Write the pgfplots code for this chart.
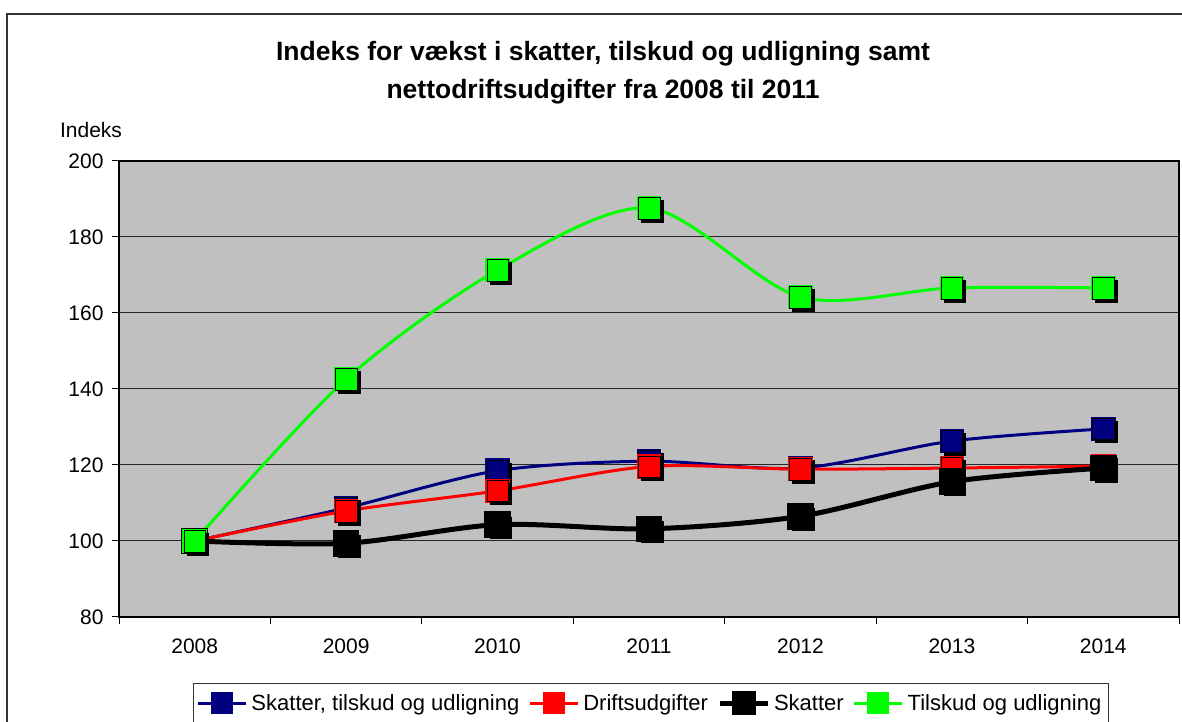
\documentclass[border=0pt]{standalone}
\usepackage{fontspec}
\setmainfont{Liberation Sans}
\usepackage{pgfplots}
\usepackage{pgfplotstable}
\pgfplotsset{compat=1.18}
\definecolor{navyb}{RGB}{0,0,128}
\definecolor{lgreen}{RGB}{0,255,0}
\definecolor{bggray}{RGB}{192,192,192}
\pgfplotstableread{
x blue red black green
0 100   100   100   100
1 108.7 107.9 99.4  142.6
2 118.5 113.2 104.3 171.3
3 121.0 119.6 103.2 187.6
4 119.2 118.9 106.5 164.2
5 126.3 119.2 115.6 166.6
6 129.5 119.7 119.2 166.6
}\data
\begin{document}
\begin{tikzpicture}[x=1pt,y=1pt]
\useasboundingbox (0,0) rectangle (1182,722);
\draw[line width=1.5pt, black!80] (7,708) rectangle (1200,-20);
\node[font=\bfseries\fontsize{26.5}{38}\selectfont, align=center] at (603,649) {Indeks for vækst i skatter, tilskud og udligning samt\\nettodriftsudgifter fra 2008 til 2011};
\node[font=\fontsize{21}{24}\selectfont] at (91,592) {Indeks};
\begin{axis}[
  at={(119pt,105pt)}, anchor=south west,
  width=1060pt, height=456pt, scale only axis,
  xmin=-0.5, xmax=6.5, ymin=80, ymax=200,
  ytick={80,100,...,200},
  xtick={0,...,6},
  xticklabels={2008,2009,2010,2011,2012,2013,2014},
  minor xtick={-0.5,0.5,...,6.5},
  major x tick style={draw=none},
  tick align=outside, tick pos=left,
  major tick length=7pt, minor tick length=7pt,
  tick style={black, line width=1pt},
  axis line style={black, line width=1.2pt},
  ymajorgrids, major grid style={black!85, line width=1pt},
  axis background/.style={fill=bggray},
  /pgf/number format/assume math mode=true,
  ticklabel style={font=\fontsize{21}{25}\selectfont},
  yticklabel style={xshift=-5pt},
  xticklabel style={yshift=-11pt},
  legend columns=4,
  legend style={at={(0.0698,-0.1447)}, anchor=north west, draw=black!80, line width=1pt,
    font=\fontsize{22}{25}\selectfont, inner xsep=3pt, inner ysep=9pt,
    nodes={inner xsep=4pt, inner ysep=2pt},
    /tikz/every even column/.append style={column sep=5pt}},
  legend cell align=left,
  legend image code/.code={\draw[mark repeat=2,mark phase=2,#1, mark size=9.5pt] plot coordinates {(0pt,0pt)(24pt,0pt)(48pt,0pt)};},
]
% Series 1
\addplot[navyb, line width=3pt, smooth, mark=square*, mark size=10.8pt, mark options={draw=none, fill=navyb}] table[x=x,y=blue]{\data};
\addlegendentry{Skatter, tilskud og udligning}
\addplot[forget plot, only marks, mark=square*, mark size=10.8pt, mark options={draw=none, fill=black, xshift=3pt, yshift=-3pt}] table[x=x,y=blue]{\data};
\addplot[forget plot, only marks, mark=square*, mark size=10.8pt, mark options={draw=none, fill=navyb}] table[x=x,y=blue]{\data};
% Series 2
\addplot[red, line width=3pt, smooth, mark=square*, mark size=10.8pt, mark options={draw=none, fill=red}] table[x=x,y=red]{\data};
\addlegendentry{Driftsudgifter}
\addplot[forget plot, only marks, mark=square*, mark size=10.8pt, mark options={draw=none, fill=black, xshift=3pt, yshift=-3pt}] table[x=x,y=red]{\data};
\addplot[forget plot, only marks, mark=square*, mark size=10.8pt, mark options={draw=none, fill=red}] table[x=x,y=red]{\data};
% Series 3
\addplot[black, line width=5pt, smooth, mark=square*, mark size=10.8pt, mark options={draw=none, fill=black}] table[x=x,y=black]{\data};
\addlegendentry{Skatter}
\addplot[forget plot, only marks, mark=square*, mark size=10.8pt, mark options={draw=none, fill=black, xshift=3pt, yshift=-3pt}] table[x=x,y=black]{\data};
\addplot[forget plot, only marks, mark=square*, mark size=10.8pt, mark options={draw=none, fill=black}] table[x=x,y=black]{\data};
% Series 4
\addplot[lgreen, line width=3pt, smooth, mark=square*, mark size=10.8pt, mark options={draw=none, fill=lgreen}] table[x=x,y=green]{\data};
\addlegendentry{Tilskud og udligning}
\addplot[forget plot, only marks, mark=square*, mark size=10.8pt, mark options={draw=none, fill=black, xshift=3pt, yshift=-3pt}] table[x=x,y=green]{\data};
\addplot[forget plot, only marks, mark=square*, mark size=10.8pt, mark options={draw=none, fill=lgreen}] table[x=x,y=green]{\data};
\end{axis}
\end{tikzpicture}
\end{document}
